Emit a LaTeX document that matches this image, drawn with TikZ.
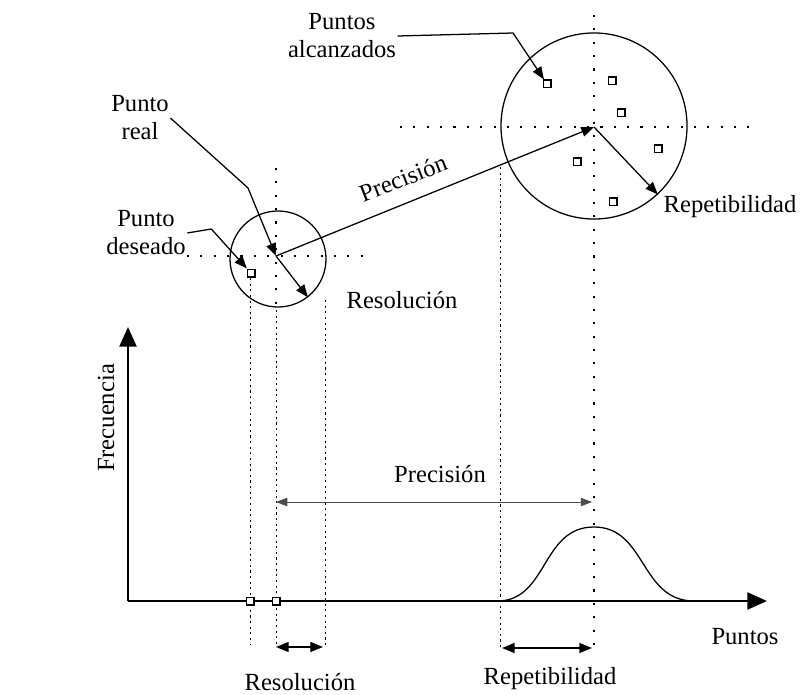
\documentclass[tikz,border=0pt]{standalone}
\usepackage{fontspec}
\setmainfont{Liberation Serif}
\usetikzlibrary{arrows.meta,positioning,calc}
\tikzset{
  replbl/.style={font=\fontsize{17.5}{20}\selectfont,inner sep=1pt,align=center},
  repsq/.style={draw,line width=0.9pt,minimum size=5.5pt,inner sep=0pt,fill=white},
  repcirc/.style={circle,draw,line width=0.9pt,inner sep=0pt},
  reparr/.style={-{Triangle[length=9pt,width=7pt]},line width=0.9pt},
  repdbl/.style={{Triangle[length=9pt,width=7pt]}-{Triangle[length=9pt,width=7pt]},line width=1.2pt},
  repthin/.style={{Triangle[length=8pt,width=6pt]}-{Triangle[length=8pt,width=6pt]},line width=0.6pt},
  repdot/.style={line width=0.6pt,dash pattern=on 1.5pt off 2.5pt},
  repgrid/.style={line width=1.4pt,dash pattern=on 1.5pt off 8pt},
  repaxis/.style={-{Triangle[length=14pt,width=12pt]},line width=2pt},
}
\begin{document}
\begin{tikzpicture}[x=0.025cm,y=-0.025cm]
  \useasboundingbox (0,0) rectangle (807,695);
  % dotted reference lines
  \draw[repgrid] (187,256) -- (370,256);
  \draw[repgrid] (276,168) -- (276,310);
  \draw[repdot] (276,310) -- (276,645);
  \draw[repdot] (250,278) -- (250,645);
  \draw[repdot] (325,300) -- (325,645);
  \draw[repgrid] (400,127) -- (760,127);
  \draw[repgrid] (594,15) -- (594,650);
  \draw[repdot] (500,167) -- (500,650);
  % circles and points
  \node[repcirc,minimum size=2.4cm] (cres) at (278,259) {};
  \node[repcirc,minimum size=4.65cm] (cbig) at (594,126) {};
  \coordinate (real) at (276,256);
  \coordinate (hit) at (594,127);
  \node[repsq] (des) at (251,273) {};
  \node[repsq] (a1) at (547,84) {};
  \node[repsq] (a2) at (612,81) {};
  \node[repsq] (a3) at (621,113) {};
  \node[repsq] (a4) at (658,149) {};
  \node[repsq] (a5) at (577,162) {};
  \node[repsq] (a6) at (613,202) {};
  % labels
  \node[replbl] (lalc) at (342,36) {Puntos\\alcanzados};
  \node[replbl] (lreal) at (140,118) {Punto\\real};
  \node[replbl] (ldes) at (146,233) {Punto\\deseado};
  \node[replbl] (lres) at (402,300) {Resolución};
  \node[replbl] (lrep) at (730,207) {Repetibilidad};
  \node[replbl,rotate=21.4] (lprec1) at (403,178) {Precisión};
  % leaders and vectors
  \draw[reparr] (lalc.east) -- (513,33) -- (a1);
  \draw[reparr] (lreal.east) -- (248,188) -- (real);
  \draw[reparr] (ldes.east) -- ++(24,-4) -- (des);
  \draw[reparr] (real) -- (hit);
  \draw[reparr] (real) -- (cres.-52);
  \draw[reparr] (hit) -- (cbig.-47);
  % histogram
  \coordinate (orig) at (128,601);
  \draw[repaxis] (orig) -- (128,327) coordinate (yend);
  \draw[repaxis] (orig) -- (767,601) coordinate (xend);
  \node[replbl,rotate=90] (lfrec) at (106,418) {Frecuencia};
  \node[replbl] (lpts) at (745,637) {Puntos};
  \draw[line width=0.9pt] (500,601) .. controls (548,598) and (542,527) .. (594,527)
    .. controls (646,527) and (640,600) .. (693,601);
  \node[repsq] (d0) at (250,601) {};
  \node[repsq] (r0) at (276,601) {};
  \coordinate (pl) at (276,502);
  \coordinate (pr) at (592,502);
  \draw[repthin,draw=black!70] (pl) -- (pr);
  \node[replbl] (lprec) at (440,474) {Precisión};
  \draw[repdbl] (276,647) coordinate (rl) -- (323,647) coordinate (rr);
  \draw[repdbl] (502,648) coordinate (tl) -- (592,648) coordinate (tr);
  \node[replbl] (lres2) at (300,682) {Resolución};
  \node[replbl] (lrep2) at (550,679) {Repetibilidad};
\end{tikzpicture}
\end{document}
